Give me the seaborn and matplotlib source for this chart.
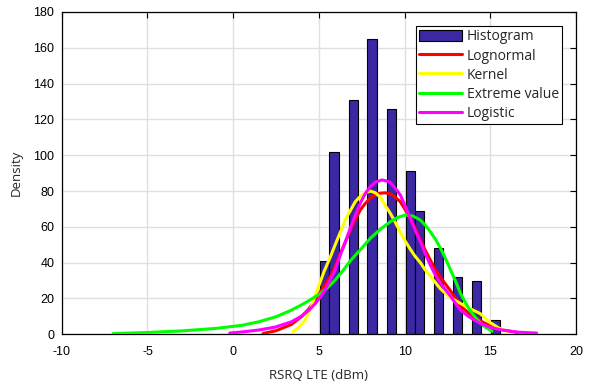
import numpy as np
import pandas as pd
import matplotlib
matplotlib.use("Agg")
import matplotlib.pyplot as plt
import seaborn as sns
from matplotlib.patches import Patch
from matplotlib.lines import Line2D

# Histogram bars (centre, height)
bar_x = [5.34, 5.88, 7.01, 8.10, 9.23, 10.33, 10.87, 11.98, 13.09, 14.20, 15.31]
bar_h = [41, 102, 131, 165, 126, 91, 69, 48, 32, 30, 8]

# Fitted curves
logn_x = [1.75, 2.5, 3.4, 4.0, 4.4, 4.8, 5.1, 5.66, 5.95, 6.25, 6.54, 6.83, 7.12, 7.41,
          7.7, 8.0, 8.3, 8.58, 8.87, 9.17, 9.46, 9.75, 10.04, 10.33, 10.62, 10.92,
          11.2, 11.5, 11.8, 12.08, 12.66, 13.25, 13.83, 14.42, 15.1, 15.8, 16.6]
logn_y = [0.5, 2.0, 5.5, 10, 14, 19.5, 24, 32, 38, 45, 51.5, 58, 64, 69.4,
          73, 76, 78, 78.8, 79, 78.4, 76.5, 74, 69.5, 64.8, 59, 52.7,
          47, 41.5, 36, 32, 24.5, 16, 11, 7.5, 4.2, 2.3, 1.0]

kern_x = [3.5, 3.9, 4.2, 4.5, 4.8, 5.3, 5.66, 5.95, 6.25, 6.54, 6.83, 7.12, 7.41, 7.7,
          8.0, 8.3, 8.58, 8.87, 9.17, 9.46, 9.75, 10.04, 10.33, 10.62, 10.92, 11.2,
          11.5, 12.08, 12.66, 13.25, 13.83, 14.42, 15.0, 15.5, 16.0]
kern_y = [1.5, 4.5, 8, 14, 22, 35, 43, 50, 57, 64, 69, 74, 77, 79,
          80, 79, 76.5, 72, 67.5, 62.5, 57, 52, 47.5, 43.5, 40, 36,
          32.5, 25.5, 20.5, 17.3, 14.3, 11.5, 6.5, 3.5, 1.5]

ev_x = [-7.0, -5.0, -3.0, -1.0, 0.5, 1.5, 2.5, 3.4, 4.0, 4.4, 5.0, 5.5, 5.95, 6.4,
        6.83, 7.4, 8.0, 8.6, 9.17, 9.6, 10.04, 10.5, 10.92, 11.2, 11.5, 11.8, 12.1,
        12.4, 12.7, 13.0, 13.25, 13.5, 13.8, 14.1, 14.4, 14.7, 15.1]
ev_y = [0.4, 1.0, 1.9, 3.3, 5.0, 7.0, 9.8, 13.5, 16.5, 18.7, 22.2, 26, 30.3, 35.5,
        41, 47, 53.6, 58.8, 62.9, 65.3, 66.6, 66, 63.8, 61, 57.3, 53, 48,
        42, 35.5, 29, 23, 18.5, 13.6, 9.8, 6.5, 4.0, 1.7]

logi_x = [-0.2, 0.5, 1.5, 2.45, 3.4, 4.0, 4.4, 4.8, 5.1, 5.4, 5.66, 5.95, 6.25, 6.54,
          6.83, 7.12, 7.41, 7.7, 8.0, 8.3, 8.68, 9.0, 9.17, 9.46, 9.75, 10.04, 10.33,
          10.62, 10.92, 11.2, 11.5, 11.8, 12.1, 12.7, 13.25, 13.8, 14.4, 15.0, 15.8,
          16.6, 17.7]
logi_y = [0.7, 1.3, 2.4, 4.0, 7.0, 10.2, 13.3, 17.3, 21, 25.5, 30.3, 36, 44.3, 51.5,
          59.2, 66.5, 73.2, 78.5, 82.5, 85, 86.2, 85.5, 84.7, 81.5, 77.8, 71.5, 64.8,
          58, 51.7, 45, 38.7, 33, 28.5, 21, 13.5, 9.5, 6.2, 3.8, 2.2,
          1.2, 0.7]

x_ticks = [-10, -5, 0, 5, 10, 15, 20]
y_ticks = [0, 20, 40, 60, 80, 100, 120, 140, 160, 180]
legend_labels = ["Histogram", "Lognormal", "Kernel", "Extreme value", "Logistic"]

BAR_COLOR = "#3b28a2"

sns.set_style("white")
plt.rcParams["font.family"] = ["Liberation Sans", "DejaVu Sans"]

fig = plt.figure(figsize=(5.89, 3.88), dpi=100)
ax = fig.add_axes([0.1048, 0.1384, 0.8732, 0.8307])

bar_df = pd.DataFrame({"x": bar_x, "h": bar_h})
sns.barplot(data=bar_df, x="x", y="h", native_scale=True, orient="x", width=1.0,
            color=BAR_COLOR, saturation=1, edgecolor="black", linewidth=0.8, ax=ax,
            zorder=2)
# make bar widths match the reference (~0.555 data units)
for p in ax.patches:
    c = p.get_x() + p.get_width() / 2
    p.set_width(0.555)
    p.set_x(c - 0.2775)

curves = [(logn_x, logn_y, "#ff0000"), (kern_x, kern_y, "#ffff00"),
          (ev_x, ev_y, "#00ff00"), (logi_x, logi_y, "#ff00ff")]
for cx, cy, col in curves:
    sns.lineplot(x=cx, y=cy, color=col, linewidth=2.2, ax=ax, zorder=3, sort=True)

ax.set_xlim(-10, 20)
ax.set_ylim(0, 180)
ax.set_xticks(x_ticks)
ax.set_yticks(y_ticks)
ax.set_xticklabels([str(t) for t in x_ticks])
ax.set_yticklabels([str(t) for t in y_ticks])
ax.grid(True, color="#e0e0e0", linewidth=1.0, zorder=0)
ax.set_axisbelow(True)
ax.tick_params(direction="in", length=4, width=0.8, labelsize=9, colors="black",
               top=True, right=True)
ax.tick_params(axis="x", pad=8.6)
ax.tick_params(axis="y", pad=5.3)
for s in ax.spines.values():
    s.set_color("black")
    s.set_linewidth(0.9)

ax.set_xlabel("RSRQ LTE (dBm)", fontsize=9.5, family=["Open Sans", "DejaVu Sans"],
              color="#262626", labelpad=7.5)
ax.set_ylabel("Density", fontsize=9.5, family=["Open Sans", "DejaVu Sans"],
              color="#262626", labelpad=7.5)

handles = [Patch(facecolor=BAR_COLOR, edgecolor="black", linewidth=0.8)]
for _, _, col in curves:
    handles.append(Line2D([0], [0], color=col, linewidth=2.2))
leg = ax.legend(handles, legend_labels, loc="upper right",
                prop={"family": ["Open Sans", "DejaVu Sans"], "size": 10},
                frameon=True, fancybox=False, edgecolor="black", framealpha=1,
                borderpad=0.25, labelspacing=0.3, handlelength=3.1, handleheight=0.9,
                handletextpad=0.3, borderaxespad=1.0)
leg.get_frame().set_linewidth(0.8)

fig.savefig("out.png", dpi=100)
